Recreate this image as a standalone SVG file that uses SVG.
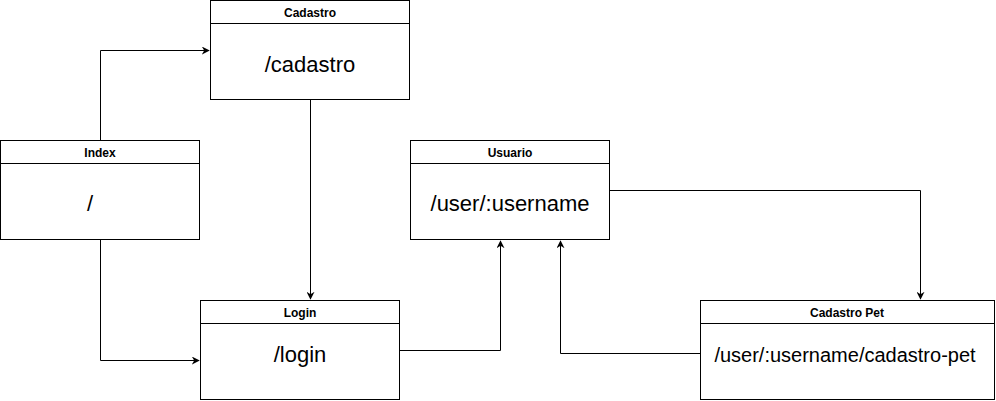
<svg xmlns="http://www.w3.org/2000/svg" width="996" height="401" viewBox="0 0 996 401">
<style>
.box{fill:#fff;stroke:#000;stroke-width:1}
.t{font-family:"Liberation Sans",Arial,sans-serif;font-size:12px;font-weight:bold;text-anchor:middle;fill:#000}
.b{font-family:"Liberation Sans",Arial,sans-serif;font-size:22px;text-anchor:middle;fill:#000}
.s{font-size:20px}
.c{fill:none;stroke:#000;stroke-width:1}
</style>
<defs>
<marker id="a" viewBox="0 0 10 10" refX="9" refY="5" markerWidth="8" markerHeight="8" markerUnits="userSpaceOnUse" orient="auto">
<path d="M0,0 L10,5 L0,10 L3,5 Z" fill="#000"/>
</marker>
</defs>
<rect width="996" height="401" fill="#fff"/>
<g id="connectors">
<path class="c" d="M100.5,140 V50.5 H209" marker-end="url(#a)"/>
<path class="c" d="M100.5,240 V360.5 H199" marker-end="url(#a)"/>
<path class="c" d="M310.5,100 V299" marker-end="url(#a)"/>
<path class="c" d="M400,350.5 H500.5 V241" marker-end="url(#a)"/>
<path class="c" d="M610,190.5 H920.5 V299" marker-end="url(#a)"/>
<path class="c" d="M700,353.5 H560.5 V241" marker-end="url(#a)"/>
</g>
<g id="cadastro">
<rect class="box" x="210.5" y="0.5" width="199" height="99"/>
<line class="c" x1="210.5" y1="23.5" x2="409.5" y2="23.5"/>
<text class="t" x="310" y="17">Cadastro</text>
<text class="b" x="310" y="72">/cadastro</text>
</g>
<g id="index">
<rect class="box" x="0.5" y="140.5" width="199" height="99"/>
<line class="c" x1="0.5" y1="163.5" x2="199.5" y2="163.5"/>
<text class="t" x="100" y="157">Index</text>
<text class="b" x="90" y="211">/</text>
</g>
<g id="usuario">
<rect class="box" x="410.5" y="140.5" width="199" height="99"/>
<line class="c" x1="410.5" y1="163.5" x2="609.5" y2="163.5"/>
<text class="t" x="510" y="157">Usuario</text>
<text class="b" x="510" y="211">/user/:username</text>
</g>
<g id="login">
<rect class="box" x="200.5" y="300.5" width="199" height="99"/>
<line class="c" x1="200.5" y1="323.5" x2="399.5" y2="323.5"/>
<text class="t" x="300" y="317">Login</text>
<text class="b" x="300" y="362">/login</text>
</g>
<g id="cadastro-pet">
<rect class="box" x="700.5" y="300.5" width="294" height="99"/>
<line class="c" x1="700.5" y1="323.5" x2="994.5" y2="323.5"/>
<text class="t" x="847" y="317">Cadastro Pet</text>
<text class="b s" x="845" y="362">/user/:username/cadastro-pet</text>
</g>
</svg>
